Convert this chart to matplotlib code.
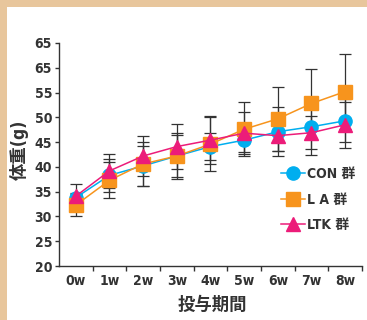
import matplotlib.pyplot as plt
from matplotlib.patches import Rectangle
from matplotlib.ticker import FixedLocator

plt.rcParams['font.family'] = ['DejaVu Sans', 'Noto Sans CJK JP']
plt.rcParams['font.stretch'] = 'condensed'

# 投与期間（週）
weeks = ['0w', '1w', '2w', '3w', '4w', '5w', '6w', '7w', '8w']

# 体重の平均値と標準偏差
con_mean = [33.8, 38.3, 40.2, 42.2, 44.1, 45.4, 47.1, 48.1, 49.3]
con_sd = [1.0, 3.3, 4.0, 4.6, 2.7, 2.3, 5.0, 5.7, 4.3]
la_mean = [32.3, 37.3, 40.6, 42.2, 44.6, 47.6, 49.7, 52.8, 55.2]
la_sd = [2.2, 3.6, 4.4, 4.2, 5.4, 5.5, 6.5, 7.0, 7.5]
ltk_mean = [34.1, 39.2, 42.2, 44.1, 45.4, 46.8, 46.3, 46.9, 48.5]
ltk_sd = [2.5, 3.5, 4.1, 4.5, 4.8, 4.2, 3.0, 3.3, 4.6]

y_ticks = [20, 25, 30, 35, 40, 45, 50, 55, 60, 65]
y_tick_labels = ['20', '25', '30', '35', '40', '45', '50', '55', '65', '65']

series = [
    ('CON 群', con_mean, con_sd, '#00AEEF', 'o'),
    ('L A 群', la_mean, la_sd, '#F7941D', 's'),
    ('LTK 群', ltk_mean, ltk_sd, '#EC1C79', '^'),
]

text_color = '#333333'

fig = plt.figure(figsize=(3.67, 3.20), dpi=100, facecolor='#E8C69C')
# 白い台紙
fig.patches.append(Rectangle((7 / 367, 0), 1, 1 - 7 / 320, transform=fig.transFigure,
                             facecolor='white', edgecolor='none', zorder=-5))

ax = fig.add_axes([59 / 367, 1 - 266 / 320, (362 - 59) / 367, (266 - 43) / 320])
ax.set_facecolor('none')

x = list(range(len(weeks)))

# エラーバーは先に描いてマーカーの下に置く
for name, mean, sd, color, marker in series:
    ax.errorbar(x, mean, yerr=sd, fmt='none', ecolor=text_color, elinewidth=0.9,
                capsize=4, capthick=0.9, zorder=2)

for name, mean, sd, color, marker in series:
    ax.plot(x, mean, color=color, marker=marker, markersize=9.5, linewidth=1.1,
            label=name, zorder=3)

ax.set_xlim(-0.5, 8.5)
ax.set_ylim(20, 65)

ax.yaxis.set_major_locator(FixedLocator(y_ticks))
ax.set_yticklabels(y_tick_labels)

ax.set_xticks(x)
ax.set_xticklabels(weeks)
ax.set_xticks([i + 0.5 for i in x], minor=True)
ax.tick_params(axis='x', which='major', length=0, pad=6)
ax.tick_params(axis='x', which='minor', length=3.5, width=1, color=text_color)
ax.tick_params(axis='y', length=3, width=1, color=text_color, pad=2)

for lbl in ax.get_xticklabels() + ax.get_yticklabels():
    lbl.set_fontweight('bold')
    lbl.set_fontsize(10)
    lbl.set_color(text_color)

for side in ['top', 'right']:
    ax.spines[side].set_visible(False)
for side in ['left', 'bottom']:
    ax.spines[side].set_color(text_color)
    ax.spines[side].set_linewidth(1)

fig.text(19 / 367, 1 - 150 / 320, '体重(g)', rotation=90, ha='center', va='center',
         fontsize=12.5, fontweight='bold', color=text_color)
fig.text(212 / 367, 1 - 305 / 320, '投与期間', ha='center', va='center',
         fontsize=12.5, fontweight='bold', color=text_color)

leg = ax.legend(loc='upper left', bbox_to_anchor=(0.715, 0.47), frameon=False,
                handlelength=1.7, handletextpad=0.15, labelspacing=0.85,
                borderaxespad=0, prop={'weight': 'bold', 'size': 10})
for t in leg.get_texts():
    t.set_color(text_color)

fig.savefig('out.png', dpi=100, facecolor=fig.get_facecolor())
